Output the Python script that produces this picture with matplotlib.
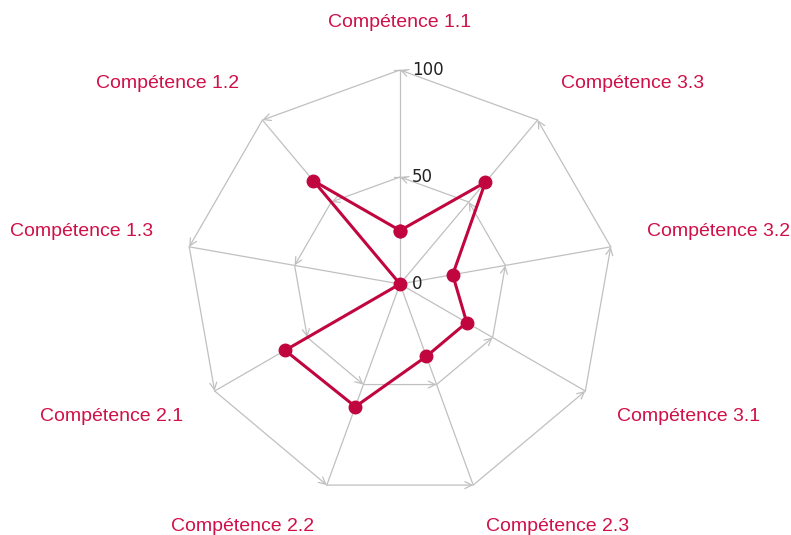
import numpy as np
import matplotlib
matplotlib.use('Agg')
import matplotlib.pyplot as plt

# data
categories = ['Compétence 1.1', 'Compétence 1.2', 'Compétence 1.3',
              'Compétence 2.1', 'Compétence 2.2', 'Compétence 2.3',
              'Compétence 3.1', 'Compétence 3.2', 'Compétence 3.3']
values = [25, 63, 0, 62, 61, 36, 36, 25, 62]
grid_levels = [50, 100]
tick_values = [0, 50, 100]

red = '#c1063f'
label_red = '#d01048'
grid_col = '#c0c0c0'

n = len(categories)
angles = np.deg2rad(90 + 360.0 / n * np.arange(n))

fig = plt.figure(figsize=(7.91, 5.35), dpi=100)
ax = fig.add_axes([0, 0, 1, 1])
ax.set_xlim(-400 / 2.14, (791 - 400) / 2.14)
ax.set_ylim(-251 / 2.14, 284 / 2.14)
ax.axis('off')

# spokes
for a in angles:
    ax.plot([0, 100 * np.cos(a)], [0, 100 * np.sin(a)], color=grid_col, lw=0.9, zorder=1)

# grid polygons, edges with small open arrowheads
for lev in grid_levels:
    xs = lev * np.cos(angles)
    ys = lev * np.sin(angles)
    for i in range(n):
        j = (i + 1) % n
        ax.annotate('', xy=(xs[j], ys[j]), xytext=(xs[i], ys[i]),
                    arrowprops=dict(arrowstyle='->,head_length=0.5,head_width=0.25',
                                    color=grid_col, lw=0.9, shrinkA=0, shrinkB=0),
                    zorder=1)

# ticks on the top spoke
for t in tick_values:
    if t > 0:
        ax.plot([-2.8, 2.8], [t, t], color=grid_col, lw=0.9, zorder=1)
    ax.text(5.5, t, str(t), fontsize=12, color='#222222', va='center', ha='left',
            family='DejaVu Sans', zorder=4)

# data polygon
vx = np.array(values) * np.cos(angles)
vy = np.array(values) * np.sin(angles)
ax.plot(np.append(vx, vx[0]), np.append(vy, vy[0]), color=red, lw=2.2,
        marker='o', markersize=9, zorder=3)

# category labels
r_lab = 117
for a, lab in zip(angles, categories):
    c, s = np.cos(a), np.sin(a)
    if abs(c) < 1e-6:
        ha = 'center'
    elif c < 0:
        ha = 'right'
    else:
        ha = 'left'
    dy = 4.0 if s > 0 else -3.6
    if abs(c) < 1e-6:
        dy = 5.0
    ax.text(r_lab * c, r_lab * s + dy, lab, ha=ha, va='center', fontsize=14,
            color=label_red, family='Liberation Sans')

fig.savefig('out.png', dpi=100)
